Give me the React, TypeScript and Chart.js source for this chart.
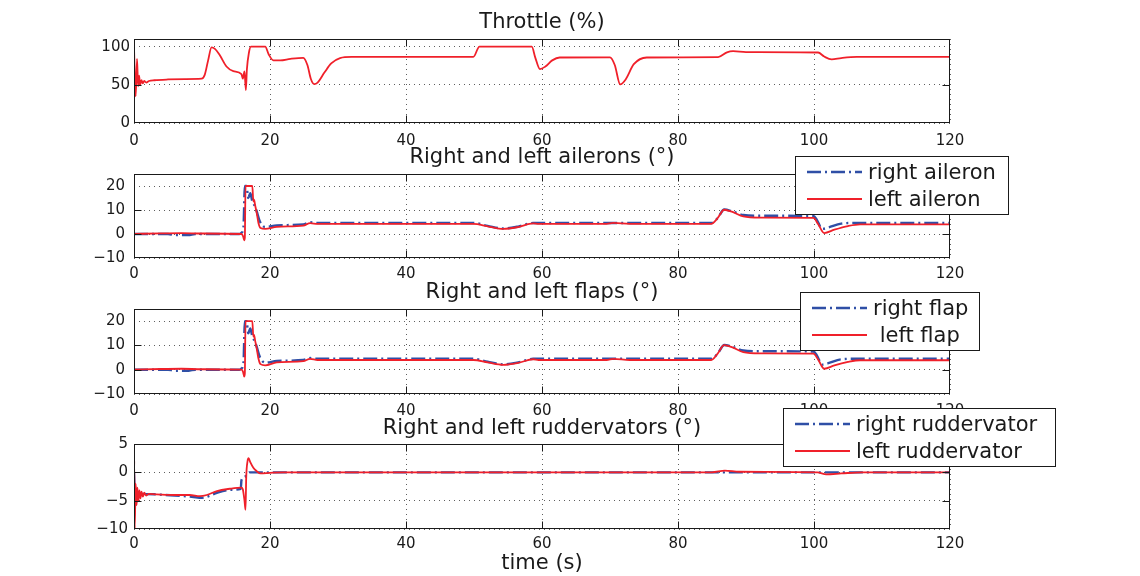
import React, { useEffect, useRef } from 'react';
import { Chart, registerables } from 'chart.js';

Chart.register(...registerables);

const FONT = '"DejaVu Sans", "Liberation Sans", sans-serif';
const RED = '#f0202a';
const BLUE = '#2f4fa6';
const INK = '#1a1a1a';
const BLUE_DASH = [14, 4, 2, 4];

// ---- tick labels ----
const xTicks = [0, 20, 40, 60, 80, 100, 120];
const throttleTicks = [0, 50, 100];
const surfaceTicks = [-10, 0, 10, 20];
const rudderTicks = [-10, -5, 0, 5];

// ---- throttle (%) ----
const throttleTime = [0, 0.12, 0.25, 0.45, 0.6, 0.75, 0.9, 1.1, 1.3, 1.5, 1.8, 2.2, 3, 5, 7.5, 9.95, 10.4, 10.9, 11.4, 11.9, 12.6, 13.6, 14.6, 15.8, 16.0, 16.25, 16.45, 16.6, 16.9, 17.2, 19.3, 19.8, 20.5, 21.5, 23, 24.9, 25.5, 26.0, 26.5, 27.0, 28, 29, 30.3, 32, 49.9, 50.8, 58.5, 59.0, 59.7, 60.5, 61.5, 62.6, 70, 70.7, 71.5, 72.3, 73.5, 75.4, 85.9, 87.2, 88.1, 90, 100.6, 101.5, 102.6, 104, 106.3, 120];
const throttleValue = [100, 60, 35, 84, 48, 62, 50, 56, 52, 55, 53, 55, 56, 57, 57.5, 58, 63, 82, 99, 97, 89, 74, 68, 64, 58, 67.7, 43, 70, 92, 100, 100, 90, 82, 82, 84, 85.4, 76, 58, 51, 53, 66, 78, 85, 86.5, 86.5, 100, 100, 86, 70.5, 74, 82, 85.8, 86, 76, 50.5, 57, 77, 85.8, 86.3, 92.5, 94, 92.8, 92.3, 87, 83.3, 85, 86.5, 86.5];

// ---- ailerons (deg) ----
const rightAileronTime = [0, 5, 6, 8, 9, 15.5, 15.8, 16.1, 16.3, 16.55, 16.8, 17.1, 17.4, 17.8, 18.05, 18.5, 19.3, 21, 24.9, 25.9, 27, 49.9, 52, 54.3, 56.5, 58.7, 84.9, 85.8, 86.8, 88, 89.6, 92, 99.9, 100.4, 101.2, 102, 104, 106, 120];
const rightAileronValue = [0, 0, -0.4, -0.4, 0, 0, 0.5, 2.9, 20, 20, 15, 17, 13.6, 11.5, 9.4, 5.3, 2.9, 3.6, 4, 4.9, 4.6, 4.6, 3.4, 2.3, 3.1, 4.6, 4.6, 6.5, 10.2, 9.4, 7.9, 7.6, 7.5, 6, 2.1, 2.6, 4.3, 4.6, 4.6];
const leftAileronTime = [0, 4, 7, 10, 15.8, 16.05, 16.2, 16.3, 16.4, 17.4, 17.55, 17.65, 17.8, 18.05, 18.3, 18.6, 19.3, 21, 24.9, 25.9, 27, 49.9, 52, 54.3, 56.5, 58.7, 59.5, 69.5, 70.5, 72.9, 84.9, 85.8, 86.8, 88, 89.6, 92, 99.9, 100.6, 101.5, 103, 105, 106.8, 120];
const leftAileronValue = [0, 0.3, 0.4, 0.2, 0, -1, -2.6, -1.5, 20, 20, 13.6, 14.3, 12.2, 8.7, 4.6, 2.5, 2.1, 3, 3.5, 4.5, 4.2, 4.2, 3.2, 2.1, 2.9, 4.4, 4.2, 4.2, 4.6, 4.2, 4.2, 6.5, 10.1, 9.2, 7.3, 6.8, 6.7, 4.2, 0.4, 1.8, 3.3, 4, 4];

// ---- flaps (deg) ----
const rightFlapTime = [0, 5, 6, 8, 9, 15.5, 15.8, 16.1, 16.3, 16.55, 16.8, 17.1, 17.4, 17.8, 18.05, 18.5, 19.3, 21, 24.9, 25.9, 27, 49.9, 52, 54.3, 56.5, 58.7, 84.9, 85.8, 86.8, 88, 89.6, 92, 99.9, 100.4, 101.2, 102, 104, 106, 120];
const rightFlapValue = [0, 0, -0.4, -0.4, 0, 0, 0.5, 2.9, 20, 20, 15, 17, 13.6, 11.5, 9.4, 5.3, 2.9, 3.6, 4, 4.8, 4.5, 4.5, 3.3, 2.2, 3.0, 4.5, 4.5, 6.5, 10.2, 9.4, 7.9, 7.6, 7.5, 6, 2.1, 2.6, 4.3, 4.5, 4.5];
const leftFlapTime = [0, 4, 7, 10, 15.8, 16.05, 16.2, 16.3, 16.4, 17.4, 17.55, 17.65, 17.8, 18.05, 18.3, 18.6, 19.3, 21, 24.9, 25.9, 27, 49.9, 52, 54.3, 56.5, 58.7, 59.5, 69.5, 70.5, 72.9, 84.9, 85.8, 86.8, 88, 89.6, 92, 99.9, 100.6, 101.5, 103, 105, 106.8, 120];
const leftFlapValue = [0, 0.3, 0.4, 0.2, 0, -1, -2.8, -1.5, 20, 20, 13.6, 14.3, 12.2, 8.7, 4.6, 2.3, 1.8, 3, 3.5, 4.5, 4.0, 4.0, 3.0, 2.0, 2.8, 4.3, 4.0, 4.0, 4.5, 4.0, 4.0, 6.5, 10.1, 9.2, 7.2, 6.7, 6.6, 4.2, 0.4, 1.8, 3.2, 3.9, 3.9];

// ---- ruddervators (deg) ----
const rightRudderTime = [0, 0.2, 0.5, 1, 3.3, 6, 8.5, 10, 11, 12.2, 14.1, 15.7, 15.8, 16.3, 17, 120];
const rightRudderValue = [0, -5.8, -4, -3.8, -3.9, -4.1, -4.3, -4.5, -4.2, -3.6, -3.1, -2.9, -1.4, -0.8, 0, 0];
const leftRudderTime = [0, 0.04, 0.1, 0.25, 0.38, 0.5, 0.65, 0.8, 0.95, 1.1, 1.3, 1.5, 1.8, 2.2, 3.3, 6, 8.2, 9.7, 10.7, 12.2, 14.1, 15.8, 16.0, 16.25, 16.4, 16.5, 16.7, 16.85, 17.1, 17.55, 18.05, 18.6, 20, 22, 85, 86.9, 89, 100.5, 101.8, 104, 107, 120];
const leftRudderValue = [0, 2, -10, -2, -5.8, -2.7, -5, -3.2, -4.6, -3.4, -4.3, -3.6, -4.1, -3.8, -3.9, -4, -4, -4.2, -4, -3.3, -2.9, -2.7, -3, -5, -6.6, -1, 2, 2.5, 1.8, 0.8, 0.2, -0.2, -0.1, 0, 0, 0.3, 0.1, 0, -0.35, -0.2, 0, 0];

const pts = (t: number[], v: number[]) => t.map((x, i) => ({ x, y: v[i] }));
const fmt = (v: number) => (v < 0 ? '\u2212' + Math.abs(v) : String(v));

const decorPlugin = {
  id: 'decor',
  afterDraw(chart: any, _args: any, opts: any) {
    const { ctx, chartArea: a, scales } = chart;
    const L = Math.round(a.left) + 0.5;
    const R = Math.round(a.right) - 0.5;
    const T = Math.round(a.top) + 0.5;
    const B = Math.round(a.bottom) - 0.5;
    ctx.save();
    ctx.strokeStyle = INK;
    ctx.lineWidth = 1;
    ctx.setLineDash([]);
    // inner tick marks
    const tl = 7;
    ctx.beginPath();
    opts.xTicks.slice(1, -1).forEach((v: number) => {
      const x = Math.round(scales.x.getPixelForValue(v)) + 0.5;
      ctx.moveTo(x, B); ctx.lineTo(x, B - tl);
      ctx.moveTo(x, T); ctx.lineTo(x, T + tl);
    });
    opts.yTicks.slice(1, -1).forEach((v: number) => {
      const y = Math.round(scales.y.getPixelForValue(v)) + 0.5;
      ctx.moveTo(L, y); ctx.lineTo(L + tl, y);
      ctx.moveTo(R, y); ctx.lineTo(R - tl, y);
    });
    ctx.stroke();
    // box
    ctx.strokeRect(L, T, R - L, B - T);
    // title
    ctx.fillStyle = INK;
    ctx.font = `21px ${FONT}`;
    ctx.textAlign = 'center';
    ctx.textBaseline = 'alphabetic';
    const cx = (a.left + a.right) / 2;
    ctx.fillText(opts.title, cx, a.top - opts.titleGap);
    if (opts.xlabel) ctx.fillText(opts.xlabel, cx, a.bottom + opts.xlabelGap);
    // legend
    const lg = opts.legend;
    if (lg) {
      ctx.fillStyle = '#fff';
      ctx.fillRect(lg.left, lg.top, lg.width, lg.height);
      ctx.strokeStyle = INK;
      ctx.strokeRect(lg.left + 0.5, lg.top + 0.5, lg.width, lg.height);
      lg.entries.forEach((e: any, i: number) => {
        const y = lg.top + 16 + 27 * i;
        ctx.beginPath();
        ctx.strokeStyle = e.color;
        ctx.lineWidth = e.width;
        ctx.setLineDash(e.dash);
        ctx.moveTo(lg.left + 12, y);
        ctx.lineTo(lg.left + 67, y);
        ctx.stroke();
        ctx.setLineDash([]);
        ctx.fillStyle = INK;
        ctx.textAlign = 'left';
        ctx.fillText(e.label, lg.left + 73, lg.top + 23 + 27 * i);
      });
    }
    ctx.restore();
  },
};

type Series = { label: string; time: number[]; value: number[]; color: string; dash: number[]; width: number };
type PanelSpec = {
  top: number; height: number; padTop: number; axisH: number;
  yMin: number; yMax: number; yTicks: number[]; yPad: number; xPad: number;
  title: string; titleGap: number; xlabel?: string; xlabelGap?: number;
  series: Series[]; legend?: any;
};

function Panel({ spec }: { spec: PanelSpec }) {
  const ref = useRef<HTMLCanvasElement>(null);
  useEffect(() => {
    const grid = { color: 'rgba(40,40,40,0.75)', lineWidth: 1, drawTicks: false };
    const border = { display: false, dash: [1, 4] };
    const chart = new Chart(ref.current as HTMLCanvasElement, {
      type: 'line',
      data: {
        datasets: spec.series.map((s) => ({
          label: s.label,
          data: pts(s.time, s.value),
          borderColor: s.color,
          borderWidth: s.width,
          borderDash: s.dash,
          pointRadius: 0,
          fill: false,
          cubicInterpolationMode: 'monotone' as const,
        })),
      },
      options: {
        responsive: false,
        animation: false,
        events: [],
        layout: { padding: { left: 0, right: 190, top: spec.padTop, bottom: 0 } },
        plugins: {
          legend: { display: false },
          tooltip: { enabled: false },
          title: { display: false },
          decor: {
            xTicks, yTicks: spec.yTicks, title: spec.title, titleGap: spec.titleGap,
            xlabel: spec.xlabel, xlabelGap: spec.xlabelGap, legend: spec.legend,
          },
        } as any,
        scales: {
          x: {
            type: 'linear', min: 0, max: 120,
            afterBuildTicks: (s: any) => { s.ticks = xTicks.map((value) => ({ value })); },
            afterFit: (s: any) => { s.height = spec.axisH; },
            grid, border,
            ticks: { font: { family: FONT, size: 15 }, color: INK, padding: spec.xPad, maxRotation: 0, autoSkip: false },
          },
          y: {
            type: 'linear', min: spec.yMin, max: spec.yMax,
            afterBuildTicks: (s: any) => { s.ticks = spec.yTicks.map((value) => ({ value })); },
            afterFit: (s: any) => { s.width = 134; },
            grid, border,
            ticks: { font: { family: FONT, size: 15 }, color: INK, padding: spec.yPad, autoSkip: false, callback: (v: any) => fmt(Number(v)) },
          },
        },
      } as any,
      plugins: [decorPlugin],
    });
    return () => chart.destroy();
  }, []);
  return (
    <canvas
      ref={ref}
      width={1140}
      height={spec.height}
      style={{ position: 'absolute', left: 0, top: spec.top, width: 1140, height: spec.height }}
    />
  );
}

const panels: PanelSpec[] = [
  {
    top: 0, height: 145, padTop: 39, axisH: 22, yMin: 0, yMax: 110, yTicks: throttleTicks, yPad: 4, xPad: 9,
    title: 'Throttle (%)', titleGap: 11.5,
    series: [{ label: 'throttle', time: throttleTime, value: throttleValue, color: RED, dash: [], width: 1.8 }],
  },
  {
    top: 142, height: 138, padTop: 32, axisH: 22, yMin: -10, yMax: 25, yTicks: surfaceTicks, yPad: 9, xPad: 7,
    title: 'Right and left ailerons (\u00b0)', titleGap: 11,
    series: [
      { label: 'left aileron', time: leftAileronTime, value: leftAileronValue, color: RED, dash: [], width: 1.8 },
      { label: 'right aileron', time: rightAileronTime, value: rightAileronValue, color: BLUE, dash: BLUE_DASH, width: 2.4 },
    ],
    legend: {
      left: 795, top: 14, width: 213, height: 58,
      entries: [
        { label: 'right aileron', color: BLUE, dash: BLUE_DASH, width: 2.4 },
        { label: 'left aileron', color: RED, dash: [], width: 1.8 },
      ],
    },
  },
  {
    top: 280, height: 138, padTop: 29, axisH: 24, yMin: -10, yMax: 25, yTicks: surfaceTicks, yPad: 9, xPad: 8,
    title: 'Right and left flaps (\u00b0)', titleGap: 11.5,
    series: [
      { label: 'left flap', time: leftFlapTime, value: leftFlapValue, color: RED, dash: [], width: 1.8 },
      { label: 'right flap', time: rightFlapTime, value: rightFlapValue, color: BLUE, dash: BLUE_DASH, width: 2.4 },
    ],
    legend: {
      left: 800, top: 12, width: 179, height: 58,
      entries: [
        { label: 'right flap', color: BLUE, dash: BLUE_DASH, width: 2.4 },
        { label: ' left flap', color: RED, dash: [], width: 1.8 },
      ],
    },
  },
  {
    top: 400, height: 176, padTop: 44, axisH: 47, yMin: -10, yMax: 5, yTicks: rudderTicks, yPad: 6, xPad: 6,
    title: 'Right and left ruddervators (\u00b0)', titleGap: 10.5, xlabel: 'time (s)', xlabelGap: 39.6,
    series: [
      { label: 'left ruddervator', time: leftRudderTime, value: leftRudderValue, color: RED, dash: [], width: 1.8 },
      { label: 'right ruddervator', time: rightRudderTime, value: rightRudderValue, color: BLUE, dash: BLUE_DASH, width: 2.4 },
    ],
    legend: {
      left: 783, top: 8, width: 272, height: 58,
      entries: [
        { label: 'right ruddervator', color: BLUE, dash: BLUE_DASH, width: 2.4 },
        { label: 'left ruddervator', color: RED, dash: [], width: 1.8 },
      ],
    },
  },
];

export default function App() {
  return (
    <div style={{ position: 'absolute', left: 0, top: 0, width: 1140, height: 576, background: '#fff', overflow: 'hidden' }}>
      {panels.map((p, i) => (
        <Panel key={i} spec={p} />
      ))}
    </div>
  );
}
